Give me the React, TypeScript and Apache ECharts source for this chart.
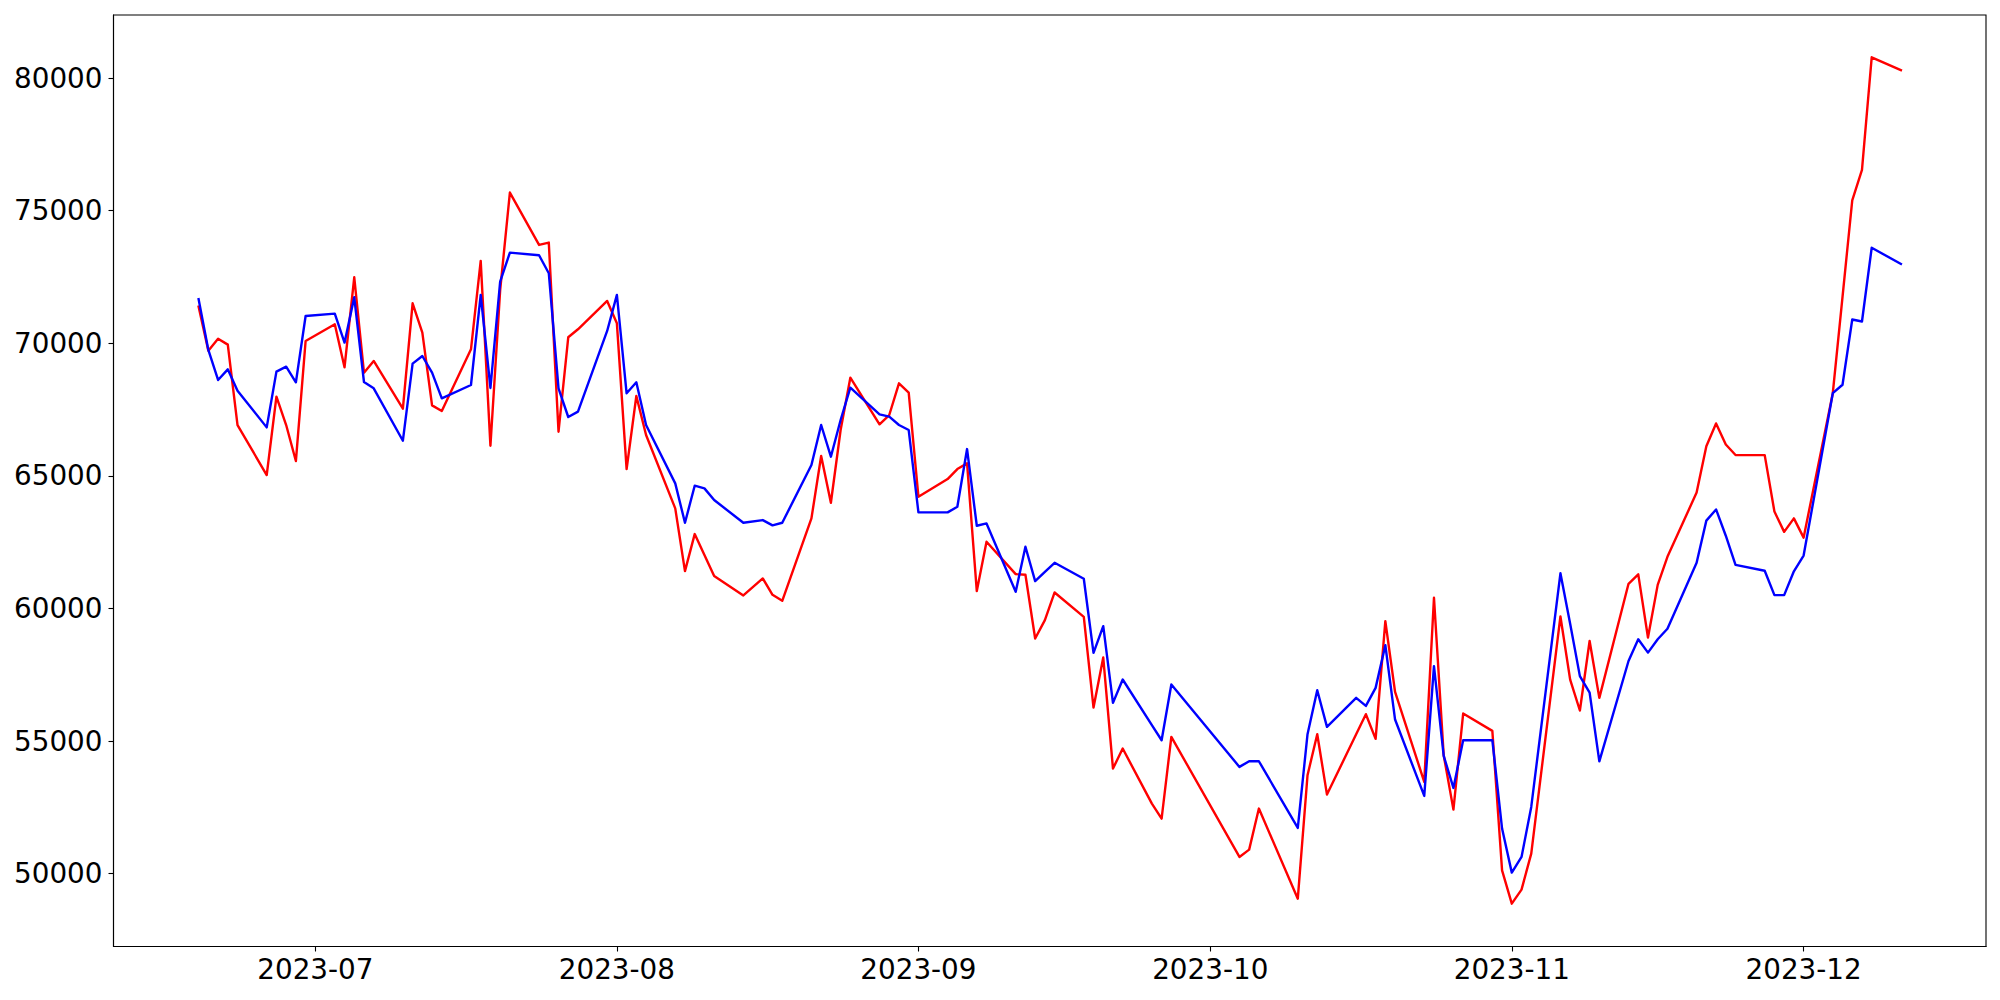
import React, { useEffect, useRef } from "react";
import * as echarts from "echarts";

const dates: string[] = [
  "2023-06-19", "2023-06-20", "2023-06-21", "2023-06-22", "2023-06-23",
  "2023-06-26", "2023-06-27", "2023-06-28", "2023-06-29", "2023-06-30",
  "2023-07-03", "2023-07-04", "2023-07-05", "2023-07-06", "2023-07-07",
  "2023-07-10", "2023-07-11", "2023-07-12", "2023-07-13", "2023-07-14",
  "2023-07-17", "2023-07-18", "2023-07-19", "2023-07-20", "2023-07-21",
  "2023-07-24", "2023-07-25", "2023-07-26", "2023-07-27", "2023-07-28",
  "2023-07-31", "2023-08-01", "2023-08-02", "2023-08-03", "2023-08-04",
  "2023-08-07", "2023-08-08", "2023-08-09", "2023-08-10", "2023-08-11",
  "2023-08-14", "2023-08-16", "2023-08-17", "2023-08-18",
  "2023-08-21", "2023-08-22", "2023-08-23", "2023-08-24", "2023-08-25",
  "2023-08-28", "2023-08-29", "2023-08-30", "2023-08-31", "2023-09-01",
  "2023-09-04", "2023-09-05", "2023-09-06", "2023-09-07", "2023-09-08",
  "2023-09-11", "2023-09-12", "2023-09-13", "2023-09-14", "2023-09-15",
  "2023-09-18", "2023-09-19", "2023-09-20", "2023-09-21", "2023-09-22",
  "2023-09-25", "2023-09-26", "2023-09-27",
  "2023-10-04", "2023-10-05", "2023-10-06",
  "2023-10-10", "2023-10-11", "2023-10-12", "2023-10-13",
  "2023-10-16", "2023-10-17", "2023-10-18", "2023-10-19", "2023-10-20",
  "2023-10-23", "2023-10-24", "2023-10-25", "2023-10-26", "2023-10-27",
  "2023-10-30", "2023-10-31", "2023-11-01", "2023-11-02", "2023-11-03",
  "2023-11-06", "2023-11-07", "2023-11-08", "2023-11-09", "2023-11-10",
  "2023-11-13", "2023-11-14", "2023-11-15", "2023-11-16", "2023-11-17",
  "2023-11-20", "2023-11-21", "2023-11-22", "2023-11-23", "2023-11-24",
  "2023-11-27", "2023-11-28", "2023-11-29", "2023-11-30", "2023-12-01",
  "2023-12-04", "2023-12-05", "2023-12-06", "2023-12-07", "2023-12-08",
  "2023-12-11",
];

const redValues: number[] = [
  71382, 69722, 70174, 69948, 66916,
  65029, 67986, 66916, 65558, 70086,
  70715, 69093, 72489, 68891, 69332,
  67533, 71508, 70401, 67659, 67445,
  69772, 73105, 66136, 72000, 75684,
  73709, 73797, 66665, 70225, 70527,
  71596, 70753, 65256, 68011, 66539,
  63772, 61408, 62804, 62011, 61219,
  60489, 61131, 60514, 60288,
  63395, 65747, 63986, 66728, 68703,
  66942, 67294, 68489, 68137, 64212,
  64879, 65256, 65470, 60652, 62514,
  61294, 61269, 58866, 59558, 60602,
  59684, 56262, 58149, 53960, 54715,
  52639, 52073, 55155,
  50627, 50904, 52451,
  49054, 53709, 55256, 52979,
  55256, 56011, 55080, 59520, 56853,
  53457, 60401, 54463, 52413, 56036,
  55382, 50124, 48866, 49394, 50753,
  59697, 57315, 56150, 58771, 56627,
  60928, 61286, 58903, 60888, 61947,
  64369, 66117, 66977, 66183, 65786,
  65783, 63652, 62887, 63397, 62670,
  68117, 71753, 75389, 76537, 80785,
  80300,
];

const blueValues: number[] = [
  71659, 69747, 68615, 69017, 68212,
  66828, 68929, 69118, 68527, 71030,
  71118, 70024, 71734, 68539, 68300,
  66325, 69231, 69520, 68891, 67923,
  68426, 71822, 68313, 72325, 73420,
  73319, 72640, 68300, 67219, 67420,
  70464, 71823, 68112, 68527, 66917,
  64715, 63231, 64628, 64527, 64087,
  63231, 63332, 63131, 63231,
  65407, 66917, 65722, 67105, 68325,
  67319, 67231, 66917, 66728, 63621,
  63621, 63835, 66010, 63118, 63206,
  60627, 62325, 61030, 61382, 61721,
  61118, 58325, 59331, 56438, 57319,
  55595, 55029, 57130,
  54023, 54237, 54237,
  51721, 55256, 56916, 55533,
  56627, 56325, 57004, 58614, 55809,
  52929, 57822, 54438, 53231, 55030,
  55030, 51696, 50036, 50627, 52514,
  61325, 59419, 57447, 56825, 54231,
  58016, 58837, 58334, 58837, 59234,
  61722, 63311, 63734, 62741, 61643,
  61420, 60500, 60500, 61400, 61994,
  68117, 68436, 70898, 70822, 73603,
  72991,
];

const yTicks: number[] = [50000, 55000, 60000, 65000, 70000, 75000, 80000];
const xTickLabels: string[] = ["2023-07", "2023-08", "2023-09", "2023-10", "2023-11", "2023-12"];

const DAY = 86400000;
const toTs = (s: string): number => {
  const [y, m, d] = s.split("-").map(Number);
  return Date.UTC(y, m - 1, d || 1);
};
const fmtMonth = (v: number): string => {
  const dt = new Date(v + DAY / 2);
  const m = dt.getUTCMonth() + 1;
  return `${dt.getUTCFullYear()}-${m < 10 ? "0" + m : m}`;
};

export default function App() {
  const ref = useRef<HTMLDivElement>(null);
  useEffect(() => {
    if (!ref.current) return;
    const chart = echarts.init(ref.current, null, { renderer: "svg" });
    const xs = dates.map(toTs);
    const xTickValues = xTickLabels.map((s) => toTs(s));
    const font = "DejaVu Sans";
    chart.setOption({
      animation: false,
      backgroundColor: "#ffffff",
      grid: {
        left: 113.5,
        right: 14,
        top: 15,
        bottom: 53.5,
        show: true,
        borderColor: "#000000",
        borderWidth: 1.1,
        backgroundColor: "transparent",
      },
      xAxis: {
        type: "value",
        min: xs[0] - 8.75 * DAY,
        max: xs[xs.length - 1] + 8.75 * DAY,
        scale: true,
        splitLine: { show: false },
        axisLine: { show: true, lineStyle: { color: "#000000", width: 1.1 } },
        axisTick: {
          show: true,
          length: 5,
          customValues: xTickValues,
          lineStyle: { color: "#000000", width: 1.1 },
        },
        axisLabel: {
          customValues: xTickValues,
          formatter: (v: number) => fmtMonth(v),
          fontFamily: font,
          fontSize: 27.8,
          color: "#000000",
          margin: 9,
          hideOverlap: false,
        },
      },
      yAxis: {
        type: "value",
        min: 47250,
        max: 82380,
        scale: true,
        splitLine: { show: false },
        axisLine: { show: true, lineStyle: { color: "#000000", width: 1.1 } },
        axisTick: {
          show: true,
          length: 5,
          customValues: yTicks,
          lineStyle: { color: "#000000", width: 1.1 },
        },
        axisLabel: {
          customValues: yTicks,
          formatter: (v: number) => String(v),
          fontFamily: font,
          fontSize: 27.8,
          color: "#000000",
          margin: 11,
        },
      },
      series: [
        {
          name: "red",
          type: "line",
          data: xs.map((x, i) => [x, redValues[i]]),
          showSymbol: false,
          symbol: "none",
          lineStyle: { color: "#ff0000", width: 2.4, join: "round", cap: "square" },
          itemStyle: { color: "#ff0000" },
        },
        {
          name: "blue",
          type: "line",
          data: xs.map((x, i) => [x, blueValues[i]]),
          showSymbol: false,
          symbol: "none",
          lineStyle: { color: "#0000ff", width: 2.4, join: "round", cap: "square" },
          itemStyle: { color: "#0000ff" },
        },
      ],
    });
    return () => chart.dispose();
  }, []);
  return (
    <div
      ref={ref}
      style={{ position: "fixed", left: 0, top: 0, width: 2000, height: 1000, background: "#ffffff" }}
    />
  );
}
